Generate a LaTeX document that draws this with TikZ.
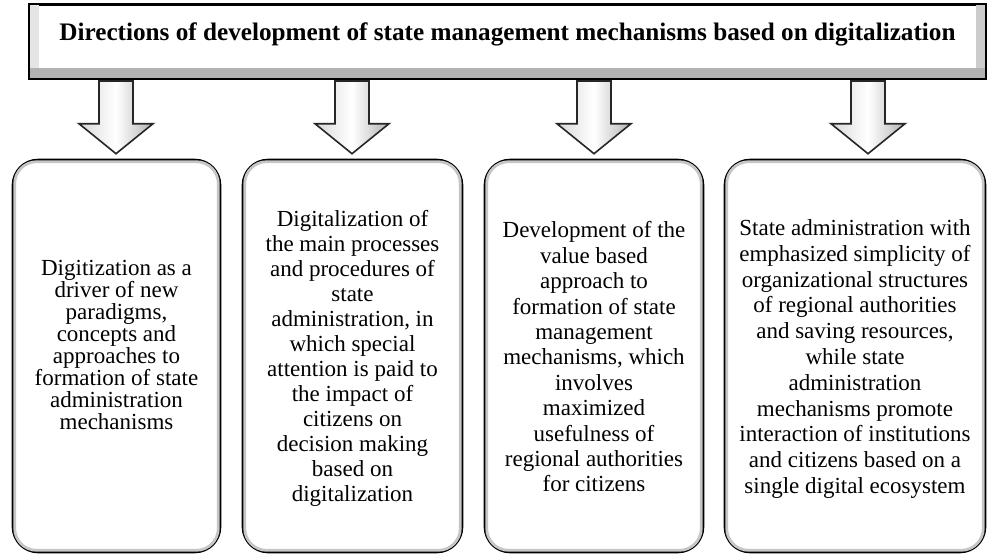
\documentclass[tikz,border=0pt]{standalone}
\usepackage{fontspec}
\setmainfont{Liberation Serif}
\usetikzlibrary{calc}

\begin{document}
\begin{tikzpicture}[x=0.5pt,y=-0.5pt,
  head/.style={draw=black,fill=white,line width=1pt,minimum width=477.5pt,minimum height=36.5pt,inner sep=0pt,font=\fontsize{12.6}{13}\selectfont\bfseries},
  card/.style={draw=black,fill=white,line width=1.3pt,rounded corners=12.5pt,inner sep=0pt,minimum height=196pt},
  txt/.style={inner sep=0pt,align=center},
  rim/.style={draw=gray!45,line width=1.4pt,rounded corners=11pt},
  blk/.style={draw=black!85,line width=0.8pt,left color=gray!30,right color=gray!60,middle color=white}]
\useasboundingbox (0,0) rectangle (992,554);
% heading bar
\node[head] (title) at (507.5,41.5) {\raisebox{9.5pt}{Directions of development of state management mechanisms based on digitalization}};
\fill[gray!20] (title.south west) rectangle ($(title.north west)+(10,0)$);
\fill[gray!40] ($(title.north east)+(-10,0)$) rectangle (title.south east);
\fill[gray!60] (title.south west) rectangle ($(title.south east)+(0,-11)$);
\draw[line width=1pt] (title.south west) rectangle (title.north east);
% direction boxes
\foreach \i/\t/\x/\w/\l/\d in {1/{Digitization as a\\driver of new\\paradigms,\\concepts and\\approaches to\\formation of state\\administration\\mechanisms}/116.5/103.5/11/-11,
  2/{Digitalization of\\the main processes\\and procedures of\\state\\administration, in\\which special\\attention is paid to\\the impact of\\citizens on\\decision making\\based on\\digitalization}/352.5/109.5/12.5/2,
  3/{Development of the\\value based\\approach to\\formation of state\\management\\mechanisms, which\\involves\\maximized\\usefulness of\\regional authorities\\for citizens}/594/109/12.7/1,
  4/{State administration with\\emphasized simplicity of\\organizational structures\\of regional authorities\\and saving resources,\\while state\\administration\\mechanisms promote\\interaction of institutions\\and citizens based on a\\single digital ecosystem}/855/130/12.9/3}
{
  \node[card,minimum width=\w pt] (c\i) at (\x,356) {};
  \draw[rim] ($(c\i.south west)+(3,-3)$) rectangle ($(c\i.north east)+(-3,3)$);
  \node[txt,font=\fontsize{11.5}{\l}\selectfont] (t\i) at ($(c\i.center)+(0,\d)$) {\t};
}
% block arrows
\foreach \i/\x in {1/116,2/352,3/594,4/868}{
  \coordinate (ax\i) at (\x,0);
  \draw[blk] let \p1=($(title.south -| ax\i)+(0,2)$), \p2=($(c\i.north -| ax\i)+(0,-5)$) in
    (\x1-8.5pt,\y1) -- (\x1-8.5pt,\y2+15pt) -- (\x1-18.5pt,\y2+15pt) -- (\x2,\y2)
    -- (\x1+18.5pt,\y2+15pt) -- (\x1+8.5pt,\y2+15pt) -- (\x1+8.5pt,\y1) -- cycle;
}
\end{tikzpicture}
\end{document}
